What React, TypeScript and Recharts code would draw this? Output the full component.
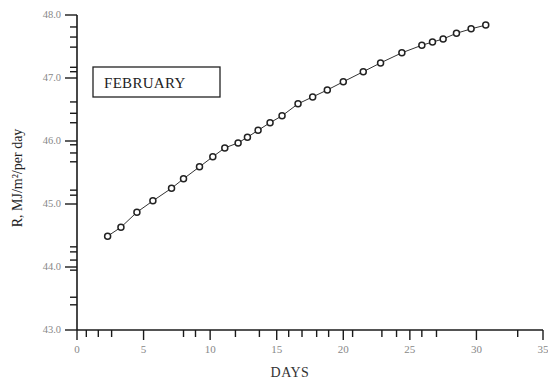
import React from 'react';
import { ComposedChart, Line, XAxis, YAxis, Customized } from 'recharts';

// Daily radiation, February
const days = [2.3, 3.3, 4.5, 5.7, 7.1, 8.0, 9.2, 10.2, 11.1, 12.1, 12.8, 13.6, 14.5, 15.4, 16.6, 17.7, 18.8, 20.0, 21.5, 22.8, 24.4, 25.9, 26.7, 27.5, 28.5, 29.6, 30.7];
const radiation = [44.49, 44.63, 44.87, 45.05, 45.25, 45.4, 45.59, 45.75, 45.89, 45.97, 46.06, 46.17, 46.29, 46.4, 46.59, 46.7, 46.81, 46.94, 47.1, 47.24, 47.4, 47.52, 47.57, 47.62, 47.71, 47.78, 47.84];

const xMajorTicks = [0, 5, 10, 15, 20, 25, 30, 35];
const xMinorTicks = [0.7, 1.6, 2.6, 8.0, 8.9, 11.9, 13.7, 15.9, 16.9, 18.0, 18.9, 20.7, 22.9, 24.0, 25.9, 27.0, 33.1];
const yMajorTicks = [43, 44, 45, 46, 47, 48];
const yMinorTicks = [47.81, 47.65, 47.49, 47.17, 47.1, 46.62, 46.44, 46.29, 45.94, 45.81, 45.67, 45.22, 45.14, 44.32, 44.24, 44.11, 43.95, 43.52, 43.4];

const data = days.map((d, i) => ({ day: d, r: radiation[i] }));

const serif = '"Liberation Serif", "DejaVu Serif", serif';
const axisColor = '#1a1a1a';

const XTick = (props: any) => {
  const { x, y, payload } = props;
  const major = xMajorTicks.includes(payload.value);
  return (
    <g>
      <line x1={x} y1={y} x2={x} y2={y + (major ? 10 : 7)} stroke={axisColor} strokeWidth={1.4} />
      {major && (
        <text x={x} y={y + 23} textAnchor="middle" fontFamily={serif} fontSize={11} fill="#888">
          {payload.value}
        </text>
      )}
    </g>
  );
};

const YTick = (props: any) => {
  const { x, y, payload } = props;
  const major = yMajorTicks.includes(payload.value);
  return (
    <g>
      <line x1={x - (major ? 12 : 7)} y1={y} x2={x} y2={y} stroke={axisColor} strokeWidth={1.4} />
      {major && (
        <text x={x - 16} y={y + 3} textAnchor="end" fontFamily={serif} fontSize={10.5} fill="#888">
          {payload.value.toFixed(1)}
        </text>
      )}
    </g>
  );
};

const Marker = (props: any) => {
  const { cx, cy } = props;
  return <circle cx={cx} cy={cy} r={3} fill="#fff" stroke="#222" strokeWidth={1.5} />;
};

const Annotations = () => (
  <g>
    <rect x={93} y={67} width={127} height={30} fill="#fff" stroke="#222" strokeWidth={1.3} />
    <text x={104} y={88} fontFamily={serif} fontSize={15} fill="#222" letterSpacing={0.3}>
      FEBRUARY
    </text>
    <text
      x={22}
      y={178}
      transform="rotate(-90 22 178)"
      textAnchor="middle"
      fontFamily={serif}
      fontSize={14}
      fill="#222"
    >
      R, MJ/m²/per day
    </text>
    <text x={290} y={377} textAnchor="middle" fontFamily={serif} fontSize={14} fill="#333" letterSpacing={0.5}>
      DAYS
    </text>
  </g>
);

export default function App() {
  return (
    <div style={{ position: 'absolute', left: 0, top: 0, background: '#fff' }}>
      <ComposedChart width={548} height={379} data={data} margin={{ top: 15, right: 5, left: 0, bottom: 0 }}>
        <XAxis
          type="number"
          dataKey="day"
          domain={[0, 35]}
          ticks={[...xMajorTicks, ...xMinorTicks].sort((a, b) => a - b)}
          interval={0}
          tickSize={0}
          tickMargin={0}
          tickLine={false}
          tick={<XTick />}
          axisLine={{ stroke: axisColor, strokeWidth: 1.6 }}
          height={49}
        />
        <YAxis
          type="number"
          domain={[43, 48]}
          ticks={[...yMajorTicks, ...yMinorTicks].sort((a, b) => a - b)}
          interval={0}
          tickSize={0}
          tickMargin={0}
          tickLine={false}
          tick={<YTick />}
          axisLine={{ stroke: axisColor, strokeWidth: 1.6 }}
          width={77}
        />
        <Line
          type="linear"
          dataKey="r"
          stroke="#333"
          strokeWidth={1}
          dot={<Marker />}
          activeDot={false}
          isAnimationActive={false}
        />
        <Customized component={Annotations} />
      </ComposedChart>
    </div>
  );
}
